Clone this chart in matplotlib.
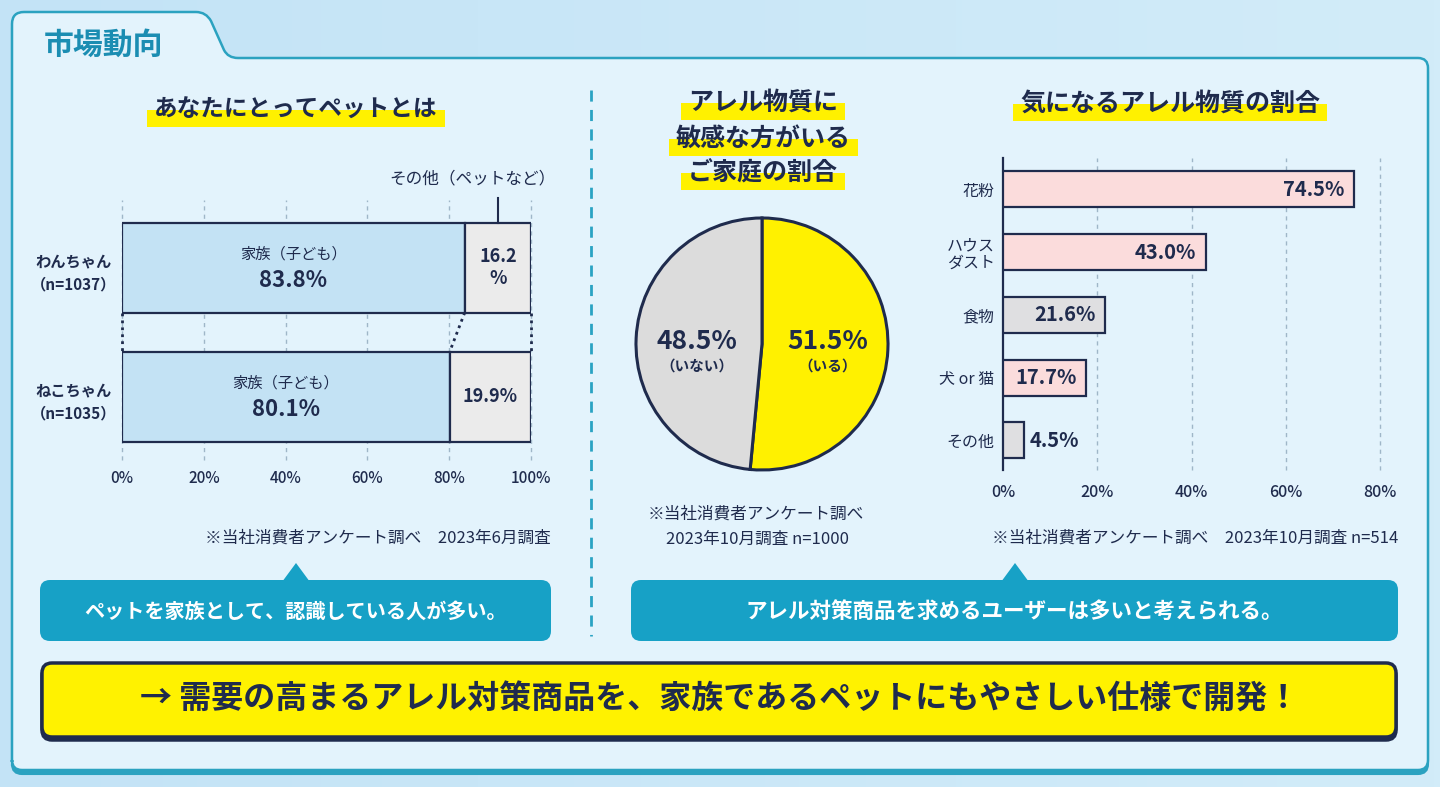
import numpy as np
import matplotlib
matplotlib.use('Agg')
import matplotlib.pyplot as plt
from matplotlib.patches import FancyBboxPatch, Rectangle, Polygon, PathPatch
from matplotlib.path import Path
from matplotlib.colors import LinearSegmentedColormap

plt.rcParams['font.family'] = ['Noto Sans CJK JP', 'DejaVu Sans']

# ---------------- data ----------------
pet_groups = ['わんちゃん\n（n=1037）', 'ねこちゃん\n（n=1035）']
pet_family = [83.8, 80.1]
pet_other = [16.2, 19.9]
pet_family_label = '家族（子ども）'
pet_other_label = 'その他（ペットなど）'
pet_ticks = [0, 20, 40, 60, 80, 100]

home_labels = ['いる', 'いない']
home_values = [51.5, 48.5]

allergen_names = ['花粉', 'ハウス\nダスト', '食物', '犬 or 猫', 'その他']
allergen_values = [74.5, 43.0, 21.6, 17.7, 4.5]
allergen_ticks = [0, 20, 40, 60, 80]

# ---------------- style ----------------
NAVY = '#1f2b4d'
TEAL = '#17a1c6'
PANEL = '#e3f3fc'
BORDER = '#2ba2c0'
YEL = '#fff100'
BLUE = '#c3e2f4'
LGRAY = '#ebebeb'
PINK = '#fbdcdc'
RGRAY = '#dfdfe1'
PIEGRAY = '#dcdcdc'
GRID = '#9fb6c8'
allergen_colors = [PINK, PINK, RGRAY, PINK, RGRAY]

W, H = 1440, 787
fig = plt.figure(figsize=(W / 100, H / 100), dpi=100)
renderer = fig.canvas.get_renderer()

bg = fig.add_axes([0, 0, 1, 1], zorder=0)
grad = np.linspace(0, 1, 256).reshape(1, -1)
cmap = LinearSegmentedColormap.from_list('g', ['#c3e3f6', '#d2ecf9'])
bg.imshow(grad, extent=[0, W, H, 0], aspect='auto', cmap=cmap, zorder=0)
bg.set_xlim(0, W)
bg.set_ylim(H, 0)
bg.axis('off')

# panel outline with tab
C, L, Q = Path.CURVE3, Path.LINETO, Path.MOVETO
verts = [(12, 762), (12, 24), (12, 12), (24, 12), (196, 12), (206, 12), (211, 21),
         (224, 50), (228, 58), (238, 58), (1418, 58), (1428, 58), (1428, 68),
         (1428, 760), (1428, 770), (1418, 770), (22, 770), (12, 770), (12, 760), (12, 762)]
codes = [Q, L, C, C, L, C, C, L, C, C, L, C, C, L, C, C, L, C, C, Path.CLOSEPOLY]
path = Path(verts, codes)
shadow = Path([(x, y + 4) for x, y in verts], codes)
bg.add_patch(PathPatch(shadow, fc=BORDER, ec=BORDER, lw=1.5, zorder=1))
bg.add_patch(PathPatch(path, fc=PANEL, ec=BORDER, lw=1.8, zorder=1))

bg.text(44, 45, '市場動向', fontsize=21.5, fontweight='bold', color='#1b8db2',
        ha='left', va='center', zorder=3)


def hl_title(x, y, s, size):
    t = bg.text(x, y, s, fontsize=size, fontweight='bold', color=NAVY,
                ha='center', va='center', zorder=3)
    ext = t.get_window_extent(renderer=renderer)
    x0, x1 = ext.x0 - 7, ext.x1 + 7
    bg.add_patch(Rectangle((x0, y + 0), x1 - x0, 17, color=YEL, zorder=2, lw=0))


hl_title(296, 110, 'あなたにとってペットとは', 17)
hl_title(763, 103, 'アレル物質に', 18)
hl_title(763, 139, '敏感な方がいる', 18)
hl_title(763, 173, 'ご家庭の割合', 18)
hl_title(1170, 104, '気になるアレル物質の割合', 18)

# divider
bg.plot([591, 591], [90, 636], color='#2aa3c3', lw=2, ls=(0, (4, 3)), zorder=2)

# ---------------- left chart ----------------
top_px, bot_px = 200, 460
ax1 = fig.add_axes([122 / W, 1 - bot_px / H, 409 / W, (bot_px - top_px) / H], zorder=2)
ax1.set_facecolor('none')
unit = 129.5
ax1.set_xlim(0, 100)
ax1.set_ylim(1 + (bot_px - 397) / unit, -(267.5 - top_px) / unit)
ypos = np.arange(len(pet_groups))
bh = 90 / unit
ax1.barh(ypos, pet_family, height=bh, color=BLUE, edgecolor=NAVY, linewidth=1.6, zorder=3)
ax1.barh(ypos, pet_other, left=pet_family, height=bh, color=LGRAY, edgecolor=NAVY,
         linewidth=1.6, zorder=3)
for t in pet_ticks:
    ax1.axvline(t, color=GRID, lw=1, ls=(0, (3, 3)), zorder=1, clip_on=False)
for s in ax1.spines.values():
    s.set_visible(False)
ax1.set_xticks(pet_ticks, [f'{t}%' for t in pet_ticks])
ax1.set_yticks(ypos, pet_groups)
ax1.tick_params(axis='x', length=0, pad=7, labelsize=11, labelcolor=NAVY)
ax1.tick_params(axis='y', length=0, pad=4, labelsize=11, labelcolor=NAVY)
for lab in ax1.get_yticklabels():
    lab.set_fontweight('bold')
    lab.set_multialignment('center')
    lab.set_linespacing(1.55)
for lab in ax1.get_xticklabels():
    lab.set_fontweight('medium')

# connectors
for a, b in [(0, 0), (pet_family[0], pet_family[1]), (100, 100)]:
    ax1.plot([a, b], [0 + bh / 2, 1 - bh / 2], color=NAVY, lw=2, ls=(0, (1, 1.5)),
             zorder=4, clip_on=False)

for i in range(len(pet_groups)):
    ax1.text(pet_family[i] / 2, i - 0.105, pet_family_label, ha='center', va='center',
             fontsize=11, color=NAVY, zorder=5)
    ax1.text(pet_family[i] / 2, i + 0.10, f'{pet_family[i]:.1f}%', ha='center', va='center',
             fontsize=16, fontweight='bold', color=NAVY, zorder=5)
    o = pet_other[i]
    lab = f'{o:.1f}\n%' if o < 18 else f'{o:.1f}%'
    ax1.text(pet_family[i] + o / 2, i, lab, ha='center', va='center', fontsize=13,
             fontweight='bold', color=NAVY, zorder=5, linespacing=1.15)

xo = pet_family[0] + pet_other[0] / 2
ax1.plot([xo, xo], [-bh / 2, -bh / 2 - 25 / unit], color=NAVY, lw=1.5, zorder=4, clip_on=False)
bg.text(472, 179, pet_other_label, ha='center', va='center', fontsize=12, color=NAVY, zorder=3)

bg.text(551, 538, '※当社消費者アンケート調べ　2023年6月調査', ha='right', va='center',
        fontsize=12, color=NAVY, zorder=3)

# ---------------- pie ----------------
R = 126
cx, cy = 762, 344
pad = 1.05
ax2 = fig.add_axes([(cx - pad * R) / W, 1 - (cy + pad * R) / H, 2 * pad * R / W, 2 * pad * R / H],
                   zorder=2)
ax2.set_facecolor('none')
ax2.pie(home_values, colors=[YEL, PIEGRAY], startangle=90, counterclock=False,
        wedgeprops=dict(edgecolor=NAVY, linewidth=2.2))
ax2.set_xlim(-pad, pad)
ax2.set_ylim(-pad, pad)
ax2.set_aspect('equal')
ang = 90.0
for v, lab in zip(home_values, home_labels):
    mid = np.deg2rad(ang - v * 3.6 / 2)
    ang -= v * 3.6
    x = 0.52 * np.sign(np.cos(mid))
    ax2.text(x, 0.02, f'{v:.1f}%', ha='center', va='center', fontsize=19, fontweight='bold',
             color=NAVY)
    ax2.text(x, -0.17, f'（{lab}）', ha='center', va='center', fontsize=10.5,
             fontweight='bold', color=NAVY)

bg.text(648, 514, '※当社消費者アンケート調べ', ha='left', va='center', fontsize=12,
        color=NAVY, zorder=3)
bg.text(666, 539, '2023年10月調査 n=1000', ha='left', va='center', fontsize=12,
        color=NAVY, zorder=3)

# ---------------- right chart ----------------
rt, rb = 158, 470
ax3 = fig.add_axes([1003 / W, 1 - rb / H, 377 / W, (rb - rt) / H], zorder=2)
ax3.set_facecolor('none')
step = 62.75
ax3.set_xlim(0, 80)
ax3.set_ylim(4 + (rb - 440.5) / step, -(189.5 - rt) / step)
yr = np.arange(len(allergen_names))
ax3.barh(yr, allergen_values, height=36 / step, color=allergen_colors, edgecolor=NAVY,
         linewidth=1.6, zorder=3)
for t in allergen_ticks[1:]:
    ax3.axvline(t, color=GRID, lw=1, ls=(0, (3, 3)), zorder=1, clip_on=False)
for k, s in ax3.spines.items():
    s.set_visible(k == 'left')
ax3.spines['left'].set_color(NAVY)
ax3.spines['left'].set_linewidth(1.6)
ax3.set_xticks(allergen_ticks, [f'{t}%' for t in allergen_ticks])
ax3.set_yticks(yr, allergen_names)
ax3.tick_params(axis='x', length=0, pad=10, labelsize=11.5, labelcolor=NAVY)
ax3.tick_params(axis='y', length=0, pad=6, labelsize=11.5, labelcolor=NAVY)
for lab in ax3.get_yticklabels():
    lab.set_multialignment('right')
    lab.set_linespacing(1.0)
for lab in ax3.get_xticklabels():
    lab.set_fontweight('medium')
for i, v in enumerate(allergen_values):
    if v > 10:
        ax3.text(v - 2.0, i, f'{v:.1f}%', ha='right', va='center', fontsize=14.5,
                 fontweight='bold', color=NAVY, zorder=5)
    else:
        ax3.text(v + 1.2, i, f'{v:.1f}%', ha='left', va='center', fontsize=14.5,
                 fontweight='bold', color=NAVY, zorder=5)

bg.text(1398, 538, '※当社消費者アンケート調べ　2023年10月調査 n=514', ha='right',
        va='center', fontsize=12, color=NAVY, zorder=3)

# ---------------- callouts ----------------
def callout(x0, x1, apex_x, text, size):
    bg.add_patch(FancyBboxPatch((x0, 580), x1 - x0, 61,
                                boxstyle='round,pad=0,rounding_size=10',
                                fc=TEAL, ec='none', zorder=2))
    bg.add_patch(Polygon([(apex_x - 14, 582), (apex_x, 563), (apex_x + 14, 582)],
                         closed=True, fc=TEAL, ec='none', zorder=2))
    bg.text((x0 + x1) / 2, 611, text, ha='center', va='center', fontsize=size,
            fontweight='bold', color='white', zorder=3)


callout(40, 551, 296, 'ペットを家族として、認識している人が多い。', 14.5)
callout(631, 1398, 1015, 'アレル対策商品を求めるユーザーは多いと考えられる。', 15.5)

# ---------------- bottom banner ----------------
bg.add_patch(FancyBboxPatch((42, 666), 1354, 74, boxstyle='round,pad=0,rounding_size=10',
                            fc=NAVY, ec=NAVY, lw=2.5, zorder=2))
bg.add_patch(FancyBboxPatch((42, 663), 1354, 74, boxstyle='round,pad=0,rounding_size=10',
                            fc='#fff200', ec=NAVY, lw=2.5, zorder=2))
bg.text(720, 700, '→ 需要の高まるアレル対策商品を、家族であるペットにもやさしい仕様で開発！',
        ha='center', va='center', fontsize=23, fontweight='bold', color=NAVY, zorder=3)

fig.savefig('out.png', dpi=100)
